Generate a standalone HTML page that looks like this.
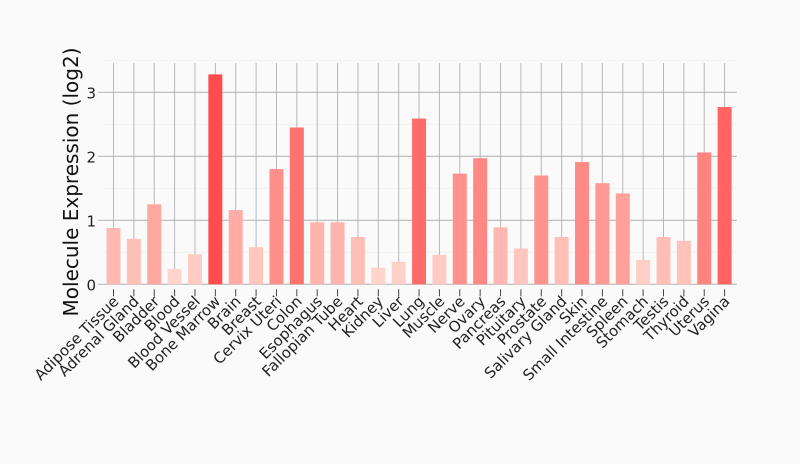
<!DOCTYPE html>
<html><head><meta charset="utf-8"><style>body{margin:0;background:#fafafa}svg{display:block}</style></head>
<body>
<svg id="s" width="800" height="464" xmlns="http://www.w3.org/2000/svg" font-family="DejaVu Sans, Liberation Sans, sans-serif">
<rect width="800" height="464" fill="#fafafa"/>
<g id="g"></g>
</svg>
<script>
const names=["Adipose Tissue","Adrenal Gland","Bladder","Blood","Blood Vessel","Bone Marrow","Brain","Breast","Cervix Uteri","Colon","Esophagus","Fallopian Tube","Heart","Kidney","Liver","Lung","Muscle","Nerve","Ovary","Pancreas","Pituitary","Prostate","Salivary Gland","Skin","Small Intestine","Spleen","Stomach","Testis","Thyroid","Uterus","Vagina"];
const vals=[0.88,0.71,1.25,0.24,0.47,3.28,1.16,0.58,1.80,2.45,0.97,0.97,0.74,0.26,0.35,2.59,0.46,1.73,1.97,0.89,0.56,1.70,0.74,1.91,1.58,1.42,0.38,0.74,0.68,2.06,2.77];
let h='';
const y0=284.3,u=64,x0=113.5,dx=20.37;
for(let k=0;k<4;k++){const y=y0-k*u;h+=`<line x1="98" x2="737" y1="${y}" y2="${y}" stroke="#b0b0b0" stroke-width="1"/>`;
h+=`<text x="96" y="${y+6}" font-size="15" text-anchor="end" fill="#222">${k}</text>`;}
for(let k=0;k<4;k++){const y=y0-(k+0.5)*u;h+=`<line x1="103" x2="737" y1="${y}" y2="${y}" stroke="#f0f0f0"/>`;}
names.forEach((n,i)=>{const x=x0+i*dx;
h+=`<line x1="${x}" x2="${x}" y1="63" y2="${y0}" stroke="#b8b8b8"/>`;
h+=`<line x1="${x}" x2="${x}" y1="${y0+5}" y2="${y0+12}" stroke="#444"/>`;});
names.forEach((n,i)=>{const x=x0+i*dx,v=vals[i],t=v/3.28;
const g=Math.round(224-147*t),b=Math.round(214-137*t);
h+=`<rect x="${x-7}" y="${y0-v*u}" width="14" height="${v*u}" fill="rgb(255,${g},${b})"/>`;
h+=`<text transform="translate(${x+6},${y0+18}) rotate(-45)" font-size="15" text-anchor="end" fill="#222">${n}</text>`;});
h+=`<text transform="translate(78,182) rotate(-90)" font-size="20" text-anchor="middle" fill="#111">Molecule Expression (log2)</text>`;
document.getElementById('g').innerHTML=h;
</script>
</body></html>
